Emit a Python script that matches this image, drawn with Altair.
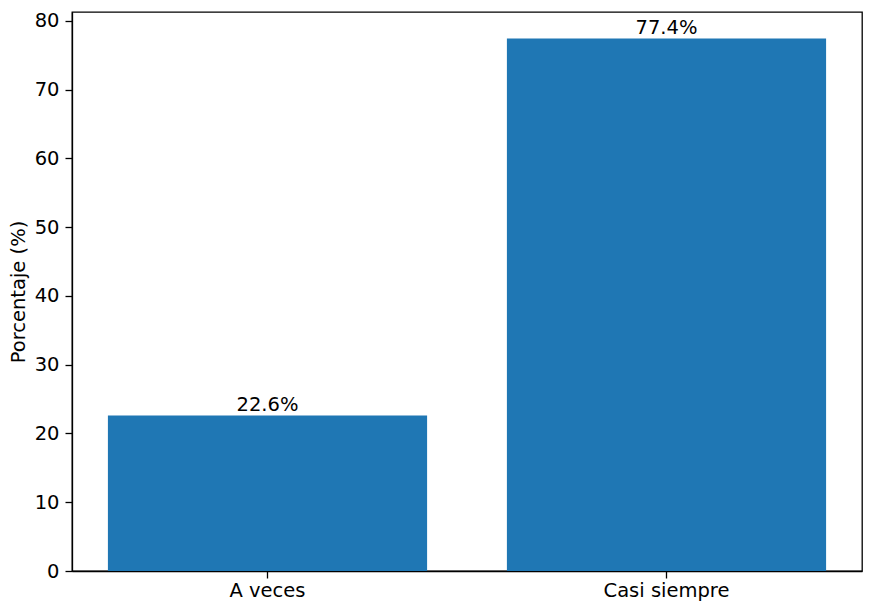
import altair as alt
import pandas as pd

categories = ["A veces", "Casi siempre"]
values = [22.6, 77.4]
bar_labels = ["22.6%", "77.4%"]
y_ticks = [0, 10, 20, 30, 40, 50, 60, 70, 80]

df = pd.DataFrame({"cat": categories, "val": values, "lab": bar_labels})

FONT = "DejaVu Sans"
FS = 19.5

x_enc = alt.X(
    "cat:N", sort=categories, title=None,
    scale=alt.Scale(paddingInner=0.2, paddingOuter=0.09),
    axis=alt.Axis(labelAngle=0, labelFont=FONT, labelFontSize=FS, labelColor="black",
                  tickColor="black", tickSize=7, tickWidth=1.3, labelPadding=3,
                  domainColor="black", domainWidth=1.3, grid=False),
)
y_enc = alt.Y(
    "val:Q", title="Porcentaje (%)",
    scale=alt.Scale(domain=[0, 81.27], nice=False, zero=True),
    axis=alt.Axis(values=y_ticks, labelFont=FONT, labelFontSize=FS, labelColor="black",
                  tickColor="black", tickSize=7, tickWidth=1.3, labelPadding=6,
                  domainColor="black", domainWidth=1.3, grid=False,
                  titleFont=FONT, titleFontSize=FS, titleFontWeight="normal",
                  titleColor="black", titlePadding=6),
)

bars = alt.Chart(df).mark_bar(color="#1f77b4").encode(x=x_enc, y=y_enc)
text = alt.Chart(df).mark_text(font=FONT, fontSize=FS, color="black",
                               baseline="bottom", dy=-1).encode(
    x=alt.X("cat:N", sort=categories),
    y=alt.Y("val:Q"),
    text="lab:N",
)

chart = (bars + text).properties(
    width=790, height=559,
    autosize=alt.AutoSizeParams(type="none"),
    padding={"left": 64, "top": 4, "right": 1, "bottom": 31},
).configure(background="white").configure_view(stroke="black", strokeWidth=1.3)

chart.save("out.html", embed_options={"renderer": "svg", "actions": False})
